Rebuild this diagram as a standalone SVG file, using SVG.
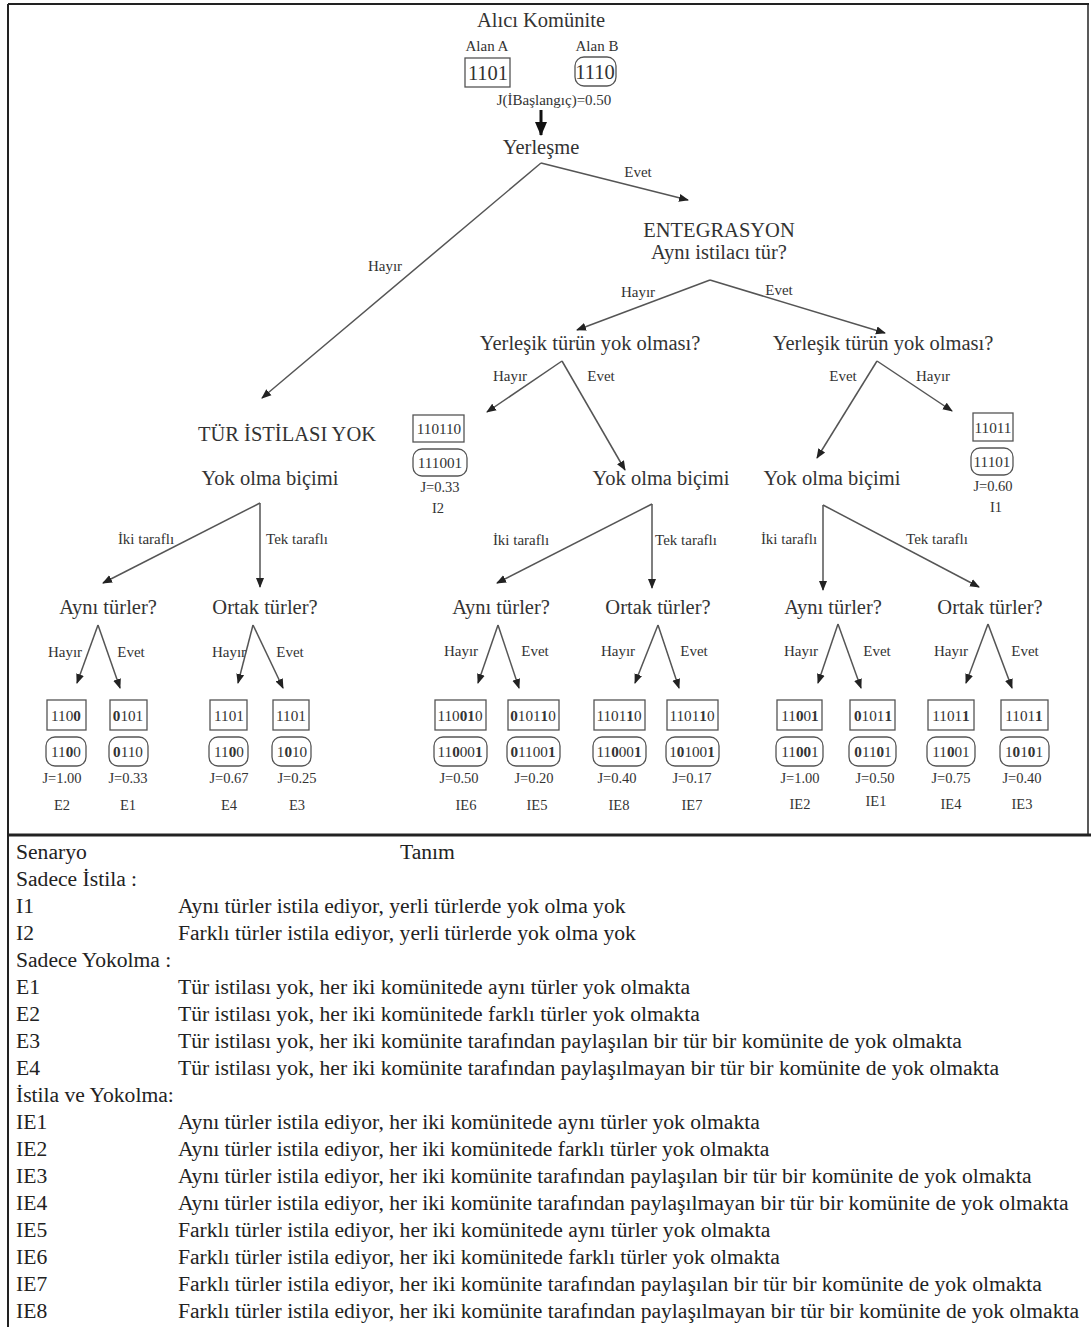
<svg xmlns="http://www.w3.org/2000/svg" width="1091" height="1327" viewBox="0 0 1091 1327">
<defs>
<marker id="ah" markerWidth="10" markerHeight="10" refX="9" refY="5" orient="auto" markerUnits="userSpaceOnUse">
<path d="M0,1 L10,5 L0,9 Z" fill="#222"/>
</marker>
<marker id="ahb" markerWidth="14" markerHeight="14" refX="13" refY="7" orient="auto" markerUnits="userSpaceOnUse">
<path d="M0,1 L14,7 L0,13 Z" fill="#111"/>
</marker>
<style>
text{font-family:"Liberation Serif","Times New Roman",serif;fill:#333;}
.t{font-size:20.5px;text-anchor:middle;}
.s{font-size:15px;text-anchor:middle;}
.bx{font-size:15.2px;text-anchor:middle;}
.j{font-size:14.5px;text-anchor:middle;}
.tb{font-size:21.6px;fill:#222;}
.b{font-weight:bold;}
.sq{fill:#fff;stroke:#555;stroke-width:1.3;}
.rd{fill:#fff;stroke:#555;stroke-width:1.3;}
.e{stroke:#555;stroke-width:1.5;fill:none;marker-end:url(#ah);}
</style>
</defs>
<rect x="0" y="0" width="1091" height="1327" fill="#fff"/>
<g id="frame" fill="none" stroke="#222">
<line x1="8" y1="4" x2="1089" y2="4" stroke-width="2"/>
<line x1="8" y1="4" x2="8" y2="1327" stroke-width="2"/>
<line x1="1088" y1="4" x2="1088" y2="835" stroke-width="1.5"/>
<line x1="8" y1="835" x2="1091" y2="835" stroke-width="3"/>
</g>

<g id="connectors">
<line x1="541" y1="110" x2="541" y2="135" stroke="#111" stroke-width="3" marker-end="url(#ahb)"/>
<path class="e" d="M541,163 L262,398"/>
<path class="e" d="M541,163 L688,200"/>
<path class="e" d="M710,280 L577,330"/>
<path class="e" d="M710,280 L885,333"/>
<path class="e" d="M562,361 L487,412"/>
<path class="e" d="M562,361 L625,470"/>
<path class="e" d="M877,361 L817,458"/>
<path class="e" d="M877,361 L952,411"/>
<path class="e" d="M260,503 L103,583"/>
<path class="e" d="M260,503 L260,587"/>
<path class="e" d="M652,504 L497,583"/>
<path class="e" d="M652,504 L652,588"/>
<path class="e" d="M823,505 L823,590"/>
<path class="e" d="M823,505 L979,587"/>
<path class="e" d="M98,625 L77,683"/>
<path class="e" d="M98,625 L120,688"/>
<path class="e" d="M253,625 L238,683"/>
<path class="e" d="M253,625 L283,688"/>
<path class="e" d="M498,625 L478,683"/>
<path class="e" d="M498,625 L519,688"/>
<path class="e" d="M658,625 L635,683"/>
<path class="e" d="M658,625 L679,688"/>
<path class="e" d="M838,624 L818,683"/>
<path class="e" d="M838,624 L861,688"/>
<path class="e" d="M988,624 L966,683"/>
<path class="e" d="M988,624 L1012,688"/>
</g>

<g id="edge-labels">
<text class="s" x="638" y="177">Evet</text>
<text class="s" x="385" y="271">Hayır</text>
<text class="s" x="638" y="297">Hayır</text>
<text class="s" x="779" y="295">Evet</text>
<text class="s" x="510" y="381">Hayır</text>
<text class="s" x="601" y="381">Evet</text>
<text class="s" x="843" y="381">Evet</text>
<text class="s" x="933" y="381">Hayır</text>
<text class="s" x="146" y="544">İki taraflı</text>
<text class="s" x="297" y="544">Tek taraflı</text>
<text class="s" x="521" y="545">İki taraflı</text>
<text class="s" x="686" y="545">Tek taraflı</text>
<text class="s" x="789" y="544">İki taraflı</text>
<text class="s" x="937" y="544">Tek taraflı</text>
<text class="s" x="65" y="657">Hayır</text>
<text class="s" x="131" y="657">Evet</text>
<text class="s" x="229" y="657">Hayır</text>
<text class="s" x="290" y="657">Evet</text>
<text class="s" x="461" y="656">Hayır</text>
<text class="s" x="535" y="656">Evet</text>
<text class="s" x="618" y="656">Hayır</text>
<text class="s" x="694" y="656">Evet</text>
<text class="s" x="801" y="656">Hayır</text>
<text class="s" x="877" y="656">Evet</text>
<text class="s" x="951" y="656">Hayır</text>
<text class="s" x="1025" y="656">Evet</text>
</g>

<g id="n-root">
<text class="t" x="541" y="27">Alıcı Komünite</text>
<text class="s" x="487" y="51">Alan A</text>
<text class="s" x="597" y="51">Alan B</text>
<rect class="sq" x="465" y="58" width="45" height="29"/>
<text class="t" x="488" y="80">1101</text>
<rect class="rd" x="575" y="57" width="41" height="29" rx="9"/>
<text class="t" x="595" y="79">1110</text>
<text class="s" x="554" y="105">J(İBaşlangıç)=0.50</text>
</g>
<g id="n-yerlesme"><text class="t" x="541" y="154">Yerleşme</text></g>
<g id="n-entegrasyon">
<text class="t" x="719" y="237">ENTEGRASYON</text>
<text class="t" x="719" y="259">Aynı istilacı tür?</text>
</g>
<g id="n-yerlesik1"><text class="t" x="590" y="350">Yerleşik türün yok olması?</text></g>
<g id="n-yerlesik2"><text class="t" x="883" y="350">Yerleşik türün yok olması?</text></g>
<g id="n-turistilasiyok">
<text class="t" x="287" y="441">TÜR İSTİLASI YOK</text>
<text class="t" x="270" y="485">Yok olma biçimi</text>
</g>
<g id="n-yokolma2"><text class="t" x="661" y="485">Yok olma biçimi</text></g>
<g id="n-yokolma3"><text class="t" x="832" y="485">Yok olma biçimi</text></g>

<g id="n-I2">
<rect class="sq" x="413" y="415" width="51" height="27"/>
<text class="bx" x="439" y="434">110110</text>
<rect class="rd" x="413" y="449" width="54" height="27" rx="9"/>
<text class="bx" x="440" y="468">111001</text>
<text class="j" x="440" y="492">J=0.33</text>
<text class="j" x="438" y="513">I2</text>
</g>
<g id="n-I1">
<rect class="sq" x="973" y="413" width="40" height="28"/>
<text class="bx" x="993" y="433">11011</text>
<rect class="rd" x="971" y="448" width="42" height="27" rx="9"/>
<text class="bx" x="992" y="467">11101</text>
<text class="j" x="993" y="491">J=0.60</text>
<text class="j" x="996" y="512">I1</text>
</g>

<g id="n-q-a1"><text class="t" x="108" y="614">Aynı türler?</text></g>
<g id="n-q-o1"><text class="t" x="265" y="614">Ortak türler?</text></g>
<g id="n-q-a2"><text class="t" x="501" y="614">Aynı türler?</text></g>
<g id="n-q-o2"><text class="t" x="658" y="614">Ortak türler?</text></g>
<g id="n-q-a3"><text class="t" x="833" y="614">Aynı türler?</text></g>
<g id="n-q-o3"><text class="t" x="990" y="614">Ortak türler?</text></g>

<g id="n-E2">
<rect class="sq" x="47" y="700" width="39" height="30"/>
<text class="bx" x="66" y="721">110<tspan class="b">0</tspan></text>
<rect class="rd" x="46" y="737" width="40" height="29" rx="9"/>
<text class="bx" x="66" y="757">11<tspan class="b">0</tspan>0</text>
<text class="j" x="62" y="783">J=1.00</text>
<text class="j" x="62" y="810">E2</text>
</g>
<g id="n-E1">
<rect class="sq" x="110" y="700" width="37" height="30"/>
<text class="bx" x="128" y="721"><tspan class="b">0</tspan>101</text>
<rect class="rd" x="109" y="737" width="39" height="29" rx="9"/>
<text class="bx" x="128" y="757"><tspan class="b">0</tspan>110</text>
<text class="j" x="128" y="783">J=0.33</text>
<text class="j" x="128" y="810">E1</text>
</g>
<g id="n-E4">
<rect class="sq" x="210" y="700" width="37" height="30"/>
<text class="bx" x="229" y="721">1101</text>
<rect class="rd" x="209" y="737" width="39" height="29" rx="9"/>
<text class="bx" x="229" y="757">11<tspan class="b">0</tspan>0</text>
<text class="j" x="229" y="783">J=0.67</text>
<text class="j" x="229" y="810">E4</text>
</g>
<g id="n-E3">
<rect class="sq" x="273" y="700" width="36" height="30"/>
<text class="bx" x="291" y="721">1101</text>
<rect class="rd" x="272" y="737" width="39" height="29" rx="9"/>
<text class="bx" x="292" y="757">1<tspan class="b">0</tspan>10</text>
<text class="j" x="297" y="783">J=0.25</text>
<text class="j" x="297" y="810">E3</text>
</g>
<g id="n-IE6">
<rect class="sq" x="435" y="700" width="51" height="30"/>
<text class="bx" x="460" y="721">110<tspan class="b">01</tspan>0</text>
<rect class="rd" x="434" y="737" width="53" height="29" rx="9"/>
<text class="bx" x="460" y="757">11<tspan class="b">0</tspan>00<tspan class="b">1</tspan></text>
<text class="j" x="459" y="783">J=0.50</text>
<text class="j" x="466" y="810">IE6</text>
</g>
<g id="n-IE5">
<rect class="sq" x="508" y="700" width="51" height="30"/>
<text class="bx" x="533" y="721"><tspan class="b">0</tspan>101<tspan class="b">1</tspan>0</text>
<rect class="rd" x="507" y="737" width="53" height="29" rx="9"/>
<text class="bx" x="533" y="757"><tspan class="b">0</tspan>1100<tspan class="b">1</tspan></text>
<text class="j" x="534" y="783">J=0.20</text>
<text class="j" x="537" y="810">IE5</text>
</g>
<g id="n-IE8">
<rect class="sq" x="594" y="700" width="51" height="30"/>
<text class="bx" x="619" y="721">1101<tspan class="b">1</tspan>0</text>
<rect class="rd" x="593" y="737" width="53" height="29" rx="9"/>
<text class="bx" x="619" y="757">11<tspan class="b">0</tspan>00<tspan class="b">1</tspan></text>
<text class="j" x="617" y="783">J=0.40</text>
<text class="j" x="619" y="810">IE8</text>
</g>
<g id="n-IE7">
<rect class="sq" x="667" y="700" width="51" height="30"/>
<text class="bx" x="692" y="721">1101<tspan class="b">1</tspan>0</text>
<rect class="rd" x="666" y="737" width="53" height="29" rx="9"/>
<text class="bx" x="692" y="757">1<tspan class="b">0</tspan>100<tspan class="b">1</tspan></text>
<text class="j" x="692" y="783">J=0.17</text>
<text class="j" x="692" y="810">IE7</text>
</g>
<g id="n-IE2">
<rect class="sq" x="777" y="700" width="45" height="30"/>
<text class="bx" x="800" y="721">11<tspan class="b">0</tspan>0<tspan class="b">1</tspan></text>
<rect class="rd" x="776" y="737" width="47" height="29" rx="9"/>
<text class="bx" x="800" y="757">11<tspan class="b">00</tspan>1</text>
<text class="j" x="800" y="783">J=1.00</text>
<text class="j" x="800" y="809">IE2</text>
</g>
<g id="n-IE1">
<rect class="sq" x="850" y="700" width="45" height="30"/>
<text class="bx" x="873" y="721"><tspan class="b">0</tspan>101<tspan class="b">1</tspan></text>
<rect class="rd" x="849" y="737" width="47" height="29" rx="9"/>
<text class="bx" x="873" y="757"><tspan class="b">0</tspan>11<tspan class="b">0</tspan>1</text>
<text class="j" x="875" y="783">J=0.50</text>
<text class="j" x="876" y="806">IE1</text>
</g>
<g id="n-IE4">
<rect class="sq" x="928" y="700" width="46" height="30"/>
<text class="bx" x="951" y="721">1101<tspan class="b">1</tspan></text>
<rect class="rd" x="927" y="737" width="48" height="29" rx="9"/>
<text class="bx" x="951" y="757">11<tspan class="b">0</tspan>01</text>
<text class="j" x="951" y="783">J=0.75</text>
<text class="j" x="951" y="809">IE4</text>
</g>
<g id="n-IE3">
<rect class="sq" x="1001" y="700" width="47" height="30"/>
<text class="bx" x="1024" y="721">1101<tspan class="b">1</tspan></text>
<rect class="rd" x="1000" y="737" width="49" height="29" rx="9"/>
<text class="bx" x="1024" y="757">1<tspan class="b">0</tspan>1<tspan class="b">0</tspan>1</text>
<text class="j" x="1022" y="783">J=0.40</text>
<text class="j" x="1022" y="809">IE3</text>
</g>

<g id="table">
<text class="tb" x="16" y="859">Senaryo</text>
<text class="tb" x="400" y="859">Tanım</text>
<text class="tb" x="16" y="886">Sadece İstila :</text>
<text class="tb" x="16" y="913">I1</text>
<text class="tb" x="178" y="913">Aynı türler istila ediyor, yerli türlerde yok olma yok</text>
<text class="tb" x="16" y="940">I2</text>
<text class="tb" x="178" y="940">Farklı türler istila ediyor, yerli türlerde yok olma yok</text>
<text class="tb" x="16" y="967">Sadece Yokolma :</text>
<text class="tb" x="16" y="994">E1</text>
<text class="tb" x="178" y="994">Tür istilası yok, her iki komünitede aynı türler yok olmakta</text>
<text class="tb" x="16" y="1021">E2</text>
<text class="tb" x="178" y="1021">Tür istilası yok, her iki komünitede farklı türler yok olmakta</text>
<text class="tb" x="16" y="1048">E3</text>
<text class="tb" x="178" y="1048">Tür istilası yok, her iki komünite tarafından paylaşılan bir tür bir komünite de yok olmakta</text>
<text class="tb" x="16" y="1075">E4</text>
<text class="tb" x="178" y="1075">Tür istilası yok, her iki komünite tarafından paylaşılmayan bir tür bir komünite de yok olmakta</text>
<text class="tb" x="16" y="1102">İstila ve Yokolma:</text>
<text class="tb" x="16" y="1129">IE1</text>
<text class="tb" x="178" y="1129">Aynı türler istila ediyor, her iki komünitede aynı türler yok olmakta</text>
<text class="tb" x="16" y="1156">IE2</text>
<text class="tb" x="178" y="1156">Aynı türler istila ediyor, her iki komünitede farklı türler yok olmakta</text>
<text class="tb" x="16" y="1183">IE3</text>
<text class="tb" x="178" y="1183">Aynı türler istila ediyor, her iki komünite tarafından paylaşılan bir tür bir komünite de yok olmakta</text>
<text class="tb" x="16" y="1210">IE4</text>
<text class="tb" x="178" y="1210">Aynı türler istila ediyor, her iki komünite tarafından paylaşılmayan bir tür bir komünite de yok olmakta</text>
<text class="tb" x="16" y="1237">IE5</text>
<text class="tb" x="178" y="1237">Farklı türler istila ediyor, her iki komünitede aynı türler yok olmakta</text>
<text class="tb" x="16" y="1264">IE6</text>
<text class="tb" x="178" y="1264">Farklı türler istila ediyor, her iki komünitede farklı türler yok olmakta</text>
<text class="tb" x="16" y="1291">IE7</text>
<text class="tb" x="178" y="1291">Farklı türler istila ediyor, her iki komünite tarafından paylaşılan bir tür bir komünite de yok olmakta</text>
<text class="tb" x="16" y="1318">IE8</text>
<text class="tb" x="178" y="1318">Farklı türler istila ediyor, her iki komünite tarafından paylaşılmayan bir tür bir komünite de yok olmakta</text>
</g>
</svg>
